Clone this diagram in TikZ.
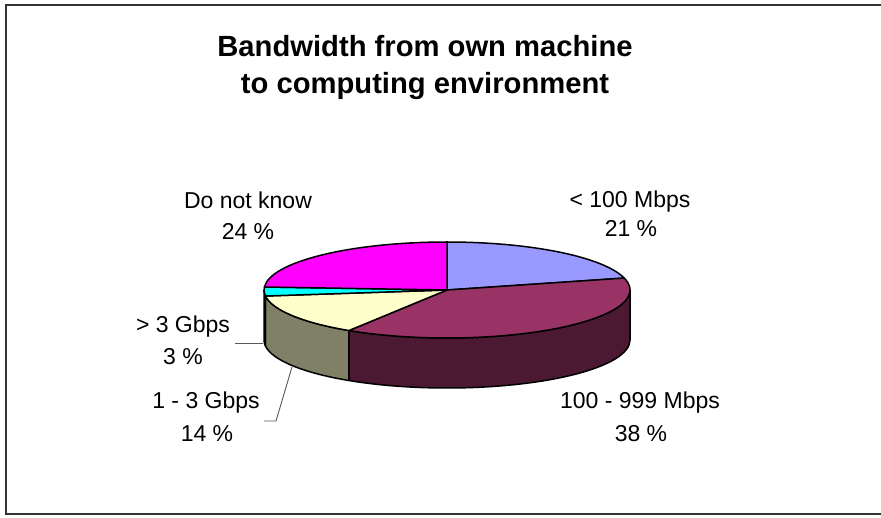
\documentclass[tikz,border=0pt]{standalone}
\usepackage{fontspec}
\setmainfont{Liberation Sans}
\definecolor{cLow}{HTML}{9999FF}
\definecolor{cMid}{HTML}{993366}
\definecolor{cMidSide}{HTML}{4C1933}
\definecolor{cHigh}{HTML}{FFFFCC}
\definecolor{cHighSide}{HTML}{808066}
\definecolor{cTop}{HTML}{00FFFF}
\definecolor{cTopSide}{HTML}{008080}
\definecolor{cDnk}{HTML}{FF00FF}
\begin{document}
\begin{tikzpicture}[x=1pt,y=1pt,
  slice/.style={draw=black,line width=1.5pt,line join=round},
  lbl/.style={anchor=base,inner sep=0pt,font=\fontsize{23}{28}\selectfont},
  ttl/.style={anchor=base,inner sep=0pt,font=\bfseries\fontsize{29.2}{35}\selectfont},
  leader/.style={draw=black!65,line width=0.9pt},
  frame/.style={draw=black!80,line width=1.3pt}]
\useasboundingbox (0,0) rectangle (881,517);
\fill[white] (0,0) rectangle (881,517);
% frame (right edge lies outside the picture)
\draw[frame] (890,512) -- (6,512) -- (6,3) -- (890,3);
% title
\node[ttl] (t1) at (425,460) {Bandwidth from own machine};
\node[ttl] (t2) at (425,423) {to computing environment};
% pie centre
\coordinate (c) at (447,227);
% side faces
\filldraw[slice,fill=cMidSide] (c) ++(-122.4:183 and 48)
  arc[start angle=-122.4,end angle=0,x radius=183,y radius=48] -- ++(0,-50)
  arc[start angle=0,end angle=-122.4,x radius=183,y radius=48] -- cycle;
\filldraw[slice,fill=cHighSide] (c) ++(-172.8:183 and 48)
  arc[start angle=-172.8,end angle=-122.4,x radius=183,y radius=48] -- ++(0,-50)
  arc[start angle=-122.4,end angle=-172.8,x radius=183,y radius=48] -- cycle;
\filldraw[slice,fill=cTopSide] (c) ++(-180:183 and 48)
  arc[start angle=-180,end angle=-172.8,x radius=183,y radius=48] -- ++(0,-50)
  arc[start angle=-172.8,end angle=-180,x radius=183,y radius=48] -- cycle;
% top faces
\filldraw[slice,fill=cLow] (c) -- ++(90:183 and 48)
  arc[start angle=90,end angle=14.4,x radius=183,y radius=48] -- cycle;
\filldraw[slice,fill=cMid] (c) -- ++(14.4:183 and 48)
  arc[start angle=14.4,end angle=-122.4,x radius=183,y radius=48] -- cycle;
\filldraw[slice,fill=cHigh] (c) -- ++(-122.4:183 and 48)
  arc[start angle=-122.4,end angle=-172.8,x radius=183,y radius=48] -- cycle;
\filldraw[slice,fill=cTop] (c) -- ++(-172.8:183 and 48)
  arc[start angle=-172.8,end angle=-183.6,x radius=183,y radius=48] -- cycle;
\filldraw[slice,fill=cDnk] (c) -- ++(176.4:183 and 48)
  arc[start angle=176.4,end angle=90,x radius=183,y radius=48] -- cycle;
% labels
\node[lbl] (lowA) at (630,309) {< 100 Mbps};
\node[lbl] (lowB) at (631,280) {21 \%};
\node[lbl] (dnkA) at (248,308) {Do not know};
\node[lbl] (dnkB) at (248,277) {24 \%};
\node[lbl] (topA) at (183,184) {> 3 Gbps};
\node[lbl] (topB) at (183,152) {3 \%};
\node[lbl] (highA) at (206,108) {1 - 3 Gbps};
\node[lbl] (highB) at (207,75) {14 \%};
\node[lbl] (midA) at (640,108) {100 - 999 Mbps};
\node[lbl] (midB) at (641,75) {38 \%};
% leader lines
\coordinate (topL) at (235,174);
\coordinate (topP) at (263,174);
\draw[leader] (topL) -- (topP);
\coordinate (highL) at (264,96);
\coordinate (highK) at (276,96);
\coordinate (highP) at (292,150);
\draw[leader] (highL) -- (highK) -- (highP);
\end{tikzpicture}
\end{document}
